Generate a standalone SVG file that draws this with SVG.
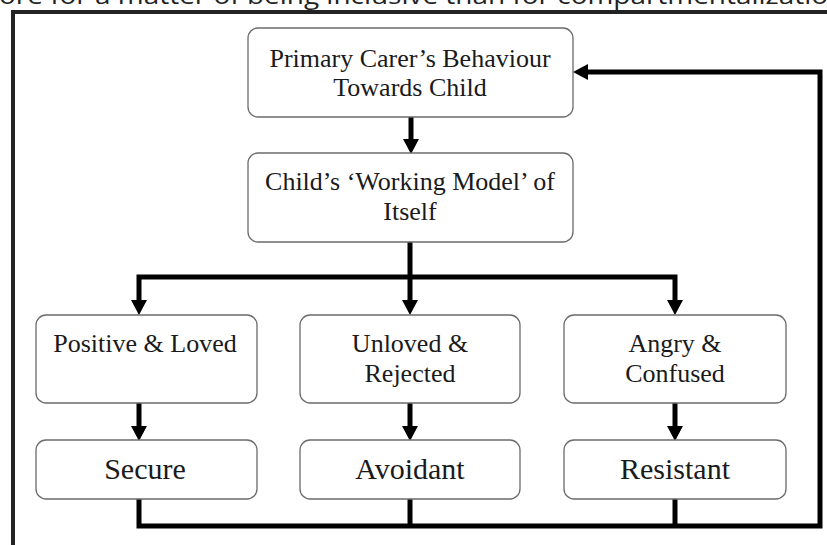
<svg xmlns="http://www.w3.org/2000/svg" width="827" height="545" viewBox="0 0 827 545">
<defs>
<style>
.box{fill:#fff;stroke:#6b6b6b;stroke-width:1.3}
.t{font-family:"Liberation Serif","Times New Roman",serif;font-size:26px;fill:#1a1a1a;text-anchor:middle}
.tb{font-family:"Liberation Serif","Times New Roman",serif;font-size:30px;fill:#1a1a1a;text-anchor:middle}
.c{fill:none;stroke:#000;stroke-width:5}
.ah{fill:#000}
</style>
</defs>
<rect width="827" height="545" fill="#fff"/>
<text x="-1" y="4" font-family="'Open Sans','Noto Sans',sans-serif" font-size="24" fill="#222" textLength="829" lengthAdjust="spacingAndGlyphs">ore for a matter of being inclusive than for compartmentalizatio</text>
<g id="frame">
<path d="M13,545 L13,12 L827,12" fill="none" stroke="#222" stroke-width="4"/>
</g>
<g id="connectors">
<path class="c" d="M411,117 L411,141"/>
<polygon class="ah" points="403,139 419,139 411,154"/>
<path class="c" d="M410,242 L410,277"/>
<path class="c" d="M139,302 L139,277 L675,277 L675,302"/>
<path class="c" d="M410,277 L410,302"/>
<polygon class="ah" points="131,300 147,300 139,315"/>
<polygon class="ah" points="402,300 418,300 410,315"/>
<polygon class="ah" points="667,300 683,300 675,315"/>
<path class="c" d="M139,403 L139,428"/>
<path class="c" d="M410,403 L410,428"/>
<path class="c" d="M675,403 L675,428"/>
<polygon class="ah" points="131,426 147,426 139,441"/>
<polygon class="ah" points="402,426 418,426 410,441"/>
<polygon class="ah" points="667,426 683,426 675,441"/>
<path class="c" d="M139,499 L139,526 L820,526 L820,72 L586,72"/>
<path class="c" d="M410,499 L410,526"/>
<path class="c" d="M675,499 L675,526"/>
<polygon class="ah" points="588,64 588,80 573,72"/>
</g>
<g id="carer">
<rect class="box" x="248" y="28" width="325" height="89" rx="10"/>
<text class="t" x="410" y="67">Primary Carer’s Behaviour</text>
<text class="t" x="410" y="96">Towards Child</text>
</g>
<g id="model">
<rect class="box" x="248" y="153" width="325" height="89" rx="10"/>
<text class="t" x="410" y="190">Child’s ‘Working Model’ of</text>
<text class="t" x="410" y="220">Itself</text>
</g>
<g id="positive">
<rect class="box" x="36" y="315" width="221" height="88" rx="10"/>
<text class="t" x="145" y="352">Positive &amp; Loved</text>
</g>
<g id="unloved">
<rect class="box" x="300" y="315" width="220" height="88" rx="10"/>
<text class="t" x="410" y="352">Unloved &amp;</text>
<text class="t" x="410" y="382">Rejected</text>
</g>
<g id="angry">
<rect class="box" x="564" y="315" width="222" height="88" rx="10"/>
<text class="t" x="675" y="352">Angry &amp;</text>
<text class="t" x="675" y="382">Confused</text>
</g>
<g id="secure">
<rect class="box" x="36" y="440" width="221" height="59" rx="10"/>
<text class="tb" x="145" y="479">Secure</text>
</g>
<g id="avoidant">
<rect class="box" x="300" y="440" width="220" height="59" rx="10"/>
<text class="tb" x="410" y="479">Avoidant</text>
</g>
<g id="resistant">
<rect class="box" x="564" y="440" width="222" height="59" rx="10"/>
<text class="tb" x="675" y="479">Resistant</text>
</g>
</svg>
